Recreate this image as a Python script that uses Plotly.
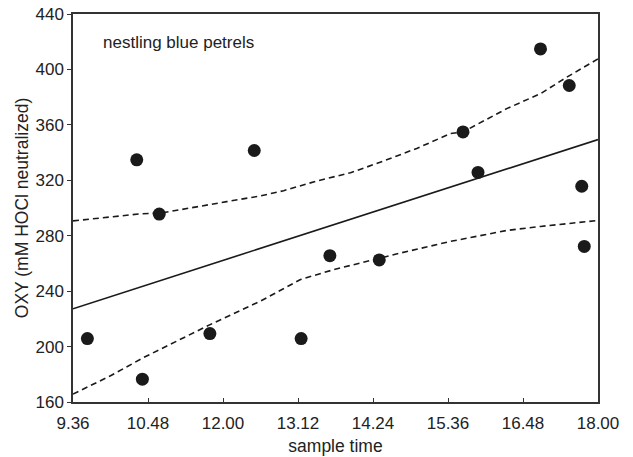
import plotly.graph_objects as go

# sample time in decimal hours (tick "9.36" = 9:36 = 9.6 h)
time_h = [9.83, 10.71, 11.79, 13.25, 10.62, 10.98, 12.50, 13.71, 14.50,
          15.84, 16.08, 17.08, 17.54, 17.74, 17.78]
oxy = [205.8, 176.5, 209.4, 205.8, 334.8, 295.6, 341.5, 265.6, 262.5,
       354.9, 325.7, 414.8, 388.4, 315.7, 272.3]

fit_x = [9.6, 18.0]
fit_y = [227.3, 349.4]

upper_x = [9.6, 10.2, 10.68, 11.0, 11.53, 12.06, 12.6, 12.97, 13.5, 14.04,
           14.57, 15.1, 15.64, 15.84, 16.54, 17.08, 17.5, 18.0]
upper_y = [290.7, 293.8, 295.8, 296.3, 300.6, 304.6, 308.7, 312.5, 319.5, 325.4,
           333.9, 343.0, 353.7, 354.9, 371.7, 382.5, 394.4, 407.6]

lower_x = [9.6, 10.2, 10.73, 11.26, 11.8, 12.6, 13.24, 13.77, 14.3, 14.84,
           15.64, 16.54, 17.08, 17.61, 18.0]
lower_y = [165.7, 178.9, 192.1, 204.0, 216.0, 232.8, 248.4, 255.5, 261.5, 267.5,
           275.9, 283.8, 286.7, 289.1, 291.0]

x_tickvals = [9.6, 10.8, 12.0, 13.2, 14.4, 15.6, 16.8, 18.0]
x_ticktext = ["9.36", "10.48", "12.00", "13.12", "14.24", "15.36", "16.48", "18.00"]
y_tickvals = [160, 200, 240, 280, 320, 360, 400, 440]

ink = "#1a1a1a"
txt = "#222"
font_family = "Liberation Sans, Arial, sans-serif"

fig = go.Figure()
fig.add_trace(go.Scatter(x=upper_x, y=upper_y, mode="lines",
                         line=dict(color=ink, width=1.6, dash="6px,4px"),
                         showlegend=False, hoverinfo="skip"))
fig.add_trace(go.Scatter(x=lower_x, y=lower_y, mode="lines",
                         line=dict(color=ink, width=1.6, dash="6px,4px"),
                         showlegend=False, hoverinfo="skip"))
fig.add_trace(go.Scatter(x=fit_x, y=fit_y, mode="lines",
                         line=dict(color=ink, width=1.6),
                         showlegend=False, hoverinfo="skip"))
fig.add_trace(go.Scatter(x=time_h, y=oxy, mode="markers",
                         marker=dict(color=ink, size=13, line=dict(width=0)),
                         showlegend=False))

fig.add_annotation(x=10.04, y=419.3, xref="x", yref="y", text="nestling blue petrels",
                   showarrow=False, xanchor="left", yanchor="middle",
                   font=dict(family=font_family, size=17, color=txt))

fig.update_layout(
    width=633, height=457,
    margin=dict(l=73, r=35, t=14, b=55),
    paper_bgcolor="white", plot_bgcolor="white",
    font=dict(family=font_family, size=17, color=txt),
    xaxis=dict(range=[9.6, 18.0], tickvals=x_tickvals, ticktext=x_ticktext,
               ticks="inside", ticklen=4, tickcolor="#333", tickwidth=1,
               showline=True, linecolor="#333", linewidth=1.5, mirror=True,
               showgrid=False, zeroline=False, automargin=False,
               ticklabelstandoff=5, ticklabeloverflow="allow",
               tickfont=dict(family=font_family, size=17, color=txt),
               title=dict(text="sample time", standoff=8,
                          font=dict(family=font_family, size=17.5, color=txt))),
    yaxis=dict(range=[160, 440], tickvals=y_tickvals,
               ticks="outside", ticklen=4, tickcolor="#333", tickwidth=1,
               showline=True, linecolor="#333", linewidth=1.5, mirror=True,
               showgrid=False, zeroline=False, automargin=False,
               ticklabeloverflow="allow",
               tickfont=dict(family=font_family, size=17, color=txt),
               title=dict(text="OXY (mM HOCl neutralized)", standoff=2,
                          font=dict(family=font_family, size=17.5, color=txt))),
)

fig.write_html("out.html", config={"displayModeBar": False},
               post_script="document.body.style.margin='0px';")
